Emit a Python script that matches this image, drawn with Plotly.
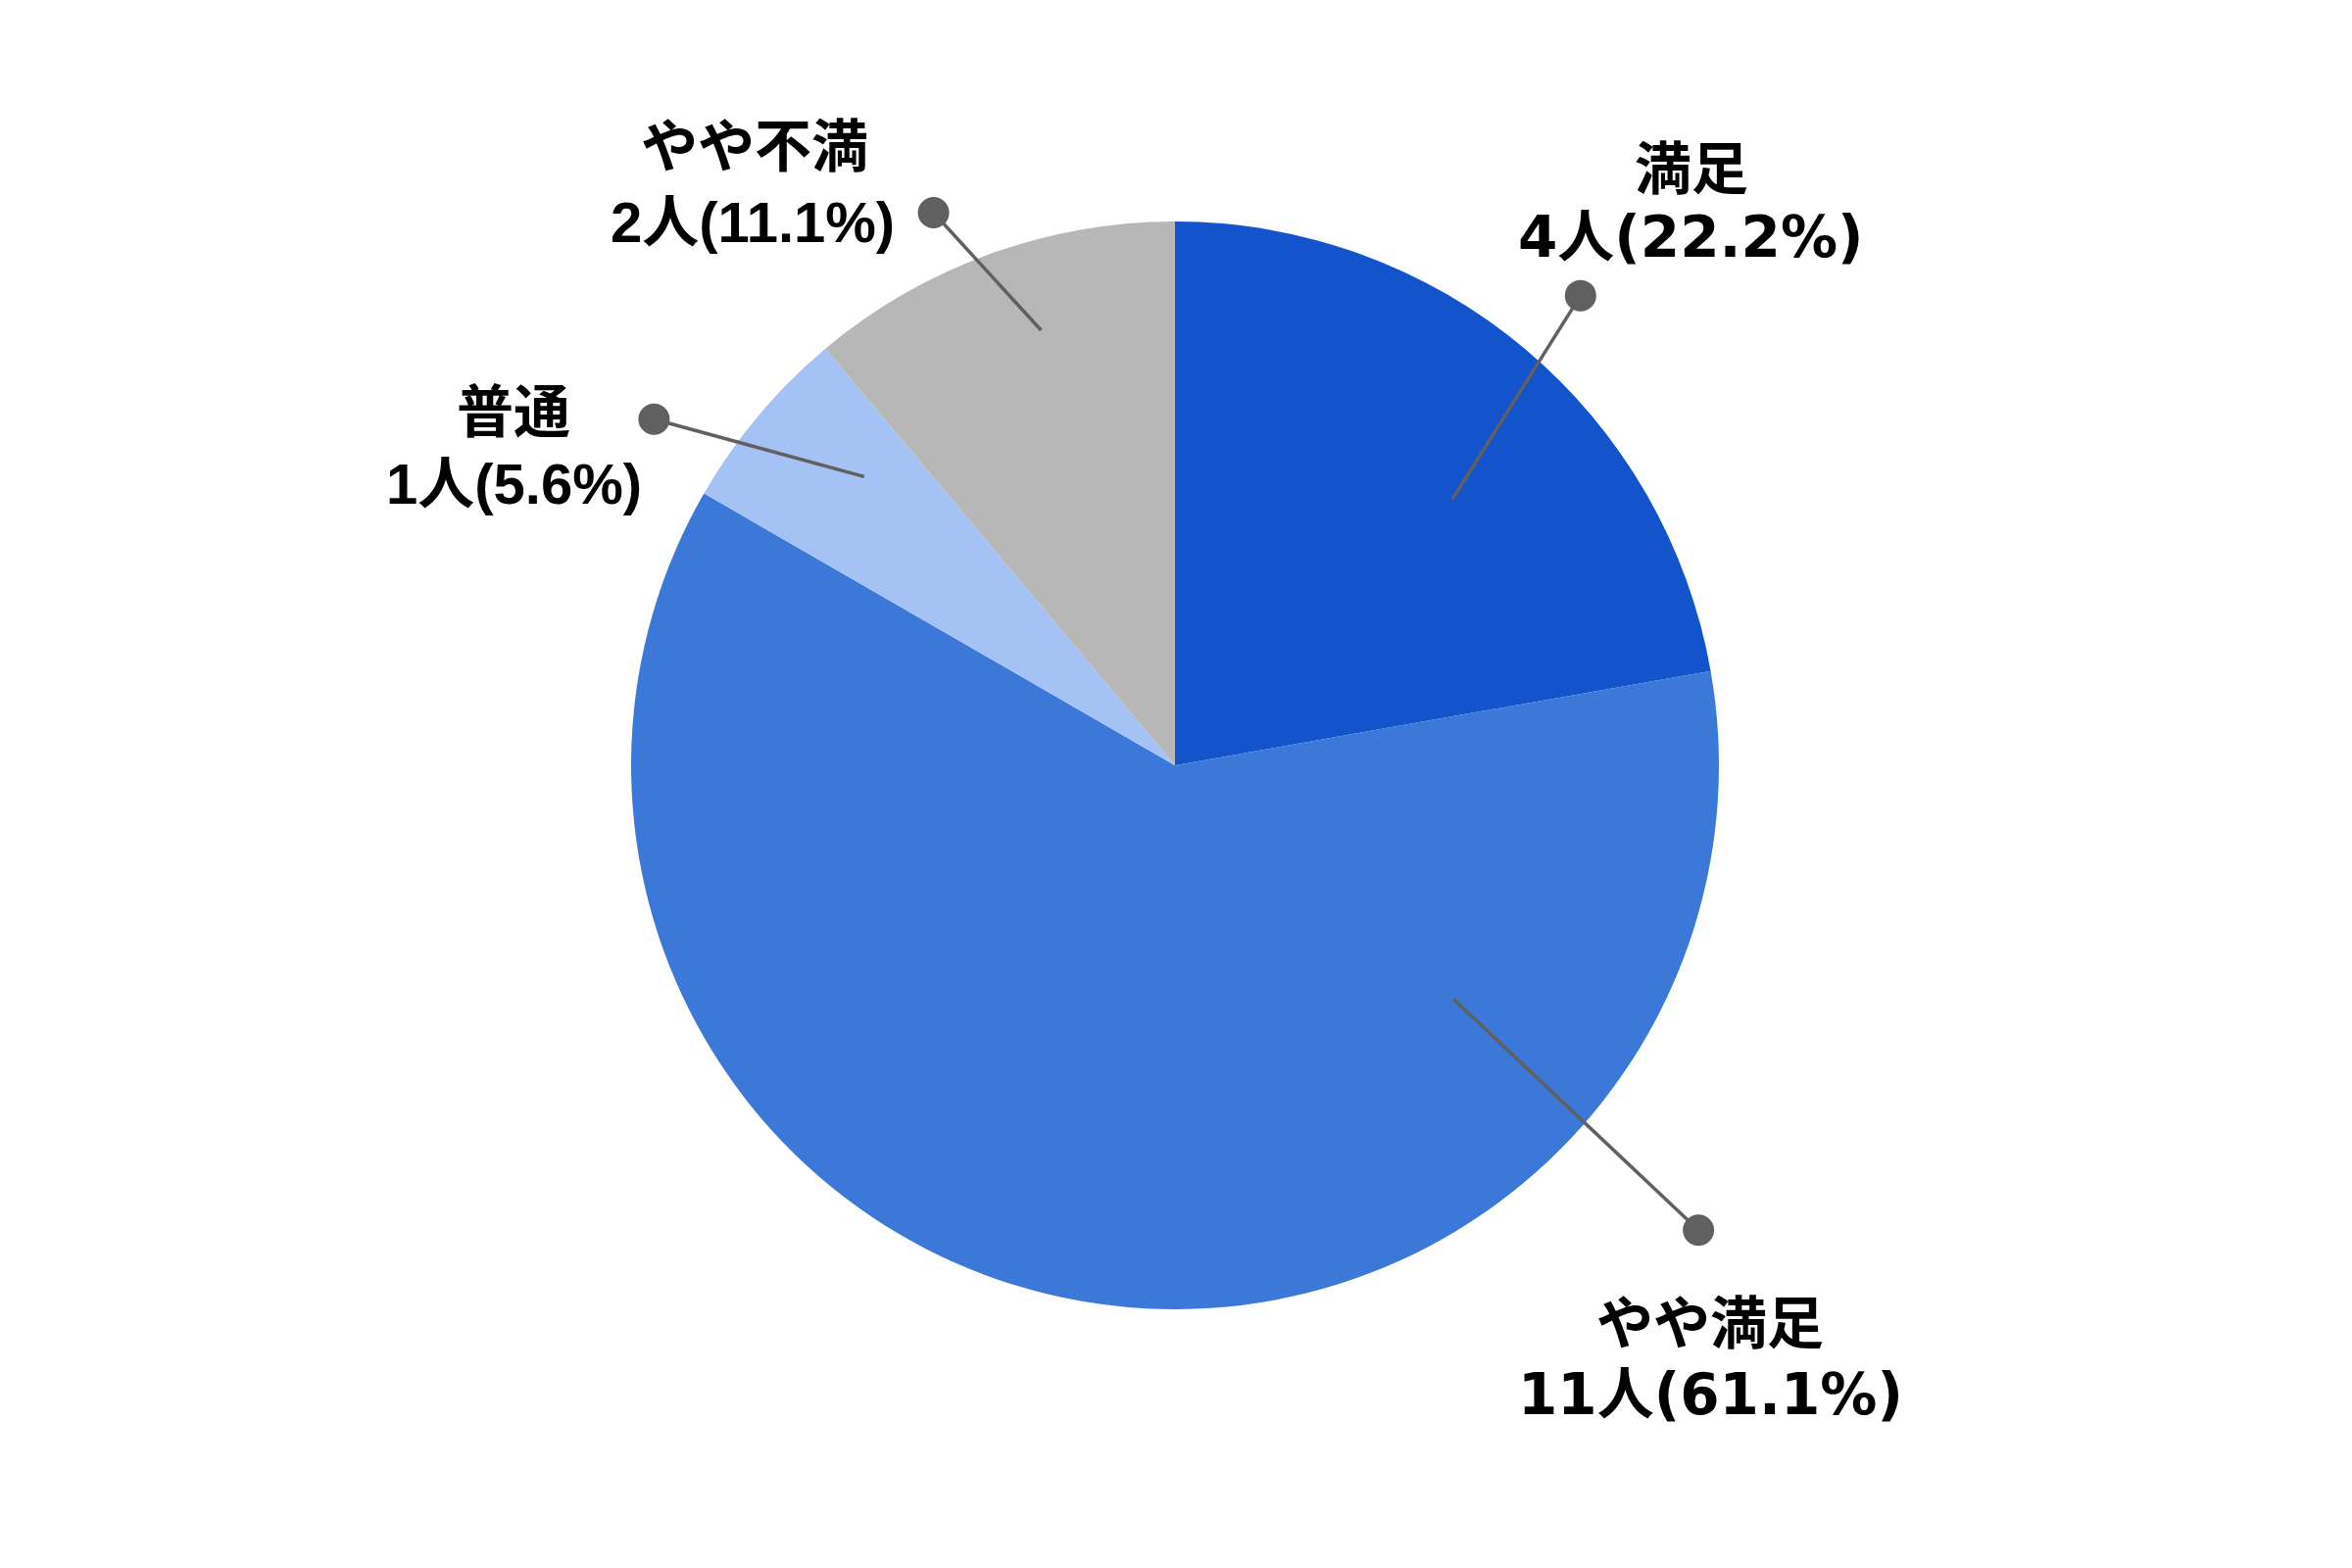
import math
import plotly.graph_objects as go

# ---- data ----
categories = ["満足", "やや満足", "普通", "やや不満"]
counts = [4, 11, 1, 2]
percent_labels = ["22.2%", "61.1%", "5.6%", "11.1%"]
colors = ["#1353CC", "#3C78D8", "#A4C2F4", "#B7B7B7"]

# ---- layout / style ----
W, H = 2400, 1600
PAGE_MARGIN = 8                      # browser default body margin
CX, CY, R = 1199, 781, 555           # pie centre and radius in screen px
# leader geometry relative to each slice's mid-angle (deg offset, radius fraction)
inner_off = [-6.2, 60.0, -2.9, -2.9]
inner_rf = [0.706, 0.668, 0.780, 0.837]
dot_off = [-0.8, 58.4, 6.4, 3.6]
dot_rf = [1.141, 1.287, 1.150, 1.109]
# text offsets from the dot (px): name line, value line
name_off = [(113, -129), (12, 96), (-143, -7), (-183, -67)]
val_off = [(113, -60), (12, 168), (-143, 66), (-185, 10)]
label_fonts = ["DejaVu Sans, Noto Sans CJK JP", "DejaVu Sans, Noto Sans CJK JP",
               "Liberation Sans, Noto Sans CJK JP", "Liberation Sans, Noto Sans CJK JP"]
FONT_SIZE = 58
LEADER = "#606060"
DOT_R = 16


def px(x):
    return (x - PAGE_MARGIN) / W


def py(y):
    return 1 - (y - PAGE_MARGIN) / H


fig = go.Figure(go.Pie(
    labels=categories,
    values=counts,
    marker=dict(colors=colors, line=dict(width=0)),
    sort=False,
    direction="clockwise",
    rotation=0,
    textinfo="none",
    hoverinfo="label+value+percent",
    showlegend=False,
    domain=dict(x=[px(CX - R), px(CX + R)], y=[py(CY + R), py(CY - R)]),
))

total = sum(counts)
shapes, annotations = [], []
cum = 0
for i, (cat, v) in enumerate(zip(categories, counts)):
    mid_cw = (cum + v / 2) / total * 360
    cum += v
    mid = 90 - mid_cw  # math angle
    a_in = math.radians(mid + inner_off[i])
    a_dot = math.radians(mid + dot_off[i])
    x_in = CX + R * inner_rf[i] * math.cos(a_in)
    y_in = CY - R * inner_rf[i] * math.sin(a_in)
    x_d = CX + R * dot_rf[i] * math.cos(a_dot)
    y_d = CY - R * dot_rf[i] * math.sin(a_dot)
    shapes.append(dict(type="line", xref="paper", yref="paper",
                       x0=px(x_in), y0=py(y_in), x1=px(x_d), y1=py(y_d),
                       line=dict(color=LEADER, width=3.5)))
    shapes.append(dict(type="circle", xref="paper", yref="paper",
                       x0=px(x_d - DOT_R), x1=px(x_d + DOT_R),
                       y0=py(y_d + DOT_R), y1=py(y_d - DOT_R),
                       fillcolor=LEADER, line=dict(width=0)))
    for txt, off in ((cat, name_off[i]), (f"{v}人({percent_labels[i]})", val_off[i])):
        annotations.append(dict(
            xref="paper", yref="paper", x=px(x_d + off[0]), y=py(y_d + off[1]),
            xanchor="center", yanchor="middle", showarrow=False,
            text=f"<b>{txt}</b>",
            font=dict(family=label_fonts[i], size=FONT_SIZE, color="#000000"),
        ))

fig.update_layout(
    width=W, height=H, autosize=False,
    margin=dict(l=0, r=0, t=0, b=0),
    paper_bgcolor="white", plot_bgcolor="white",
    shapes=shapes, annotations=annotations,
)

fig.write_html("out.html")
